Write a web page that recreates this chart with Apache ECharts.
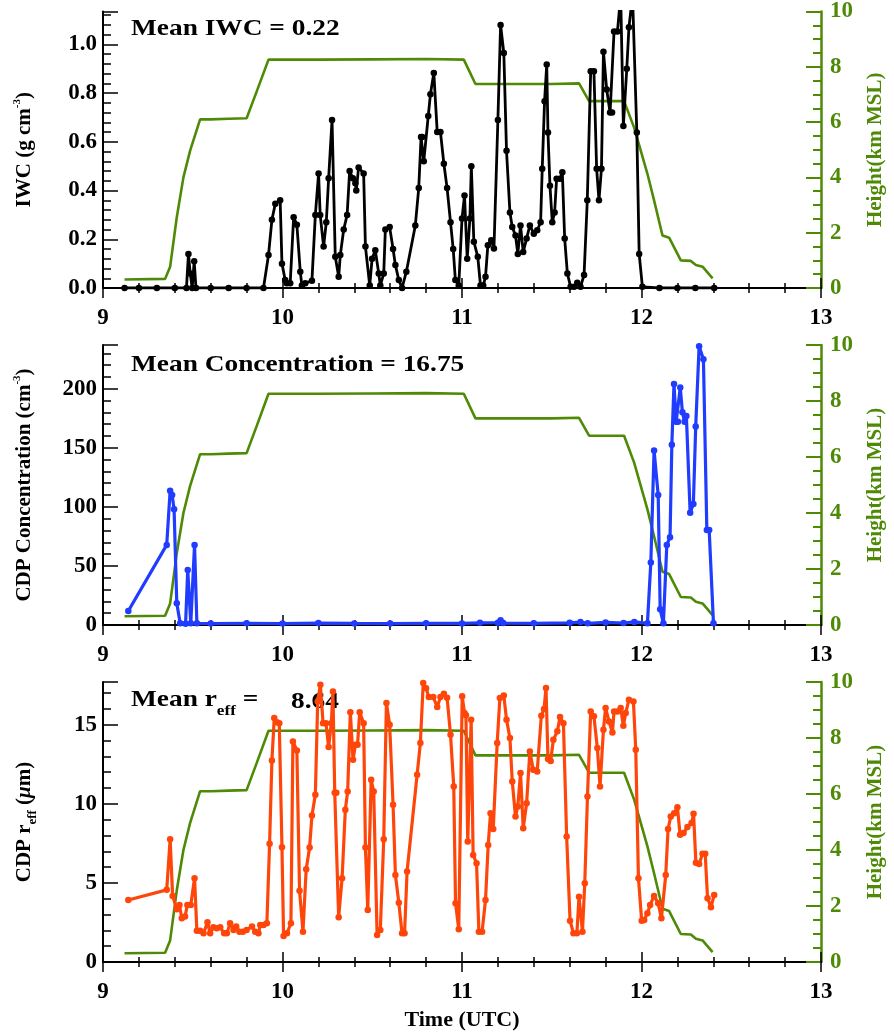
<!DOCTYPE html>
<html><head><meta charset="utf-8">
<script src="https://cdn.jsdelivr.net/npm/echarts@6/dist/echarts.min.js"></script>
<style>html,body{margin:0;padding:0;background:#fff}#c{width:894px;height:1033px}</style>
</head><body><div id="c"></div><script>
// ---------------- data ----------------
const xTicks = [9, 10, 11, 12, 13];
const heightTime = [9.12, 9.346, 9.374, 9.411, 9.448, 9.485, 9.541, 9.60, 9.70, 9.80, 9.857, 9.922, 10.2, 10.5, 10.8, 11.01, 11.075, 11.3, 11.5, 11.652, 11.708, 11.8, 11.903, 11.959, 12.033, 12.07, 12.117, 12.154, 12.219, 12.275, 12.303, 12.34, 12.396];
const heightKm = [0.31, 0.33, 0.77, 2.56, 4.0, 4.96, 6.1, 6.1, 6.12, 6.14, 7.12, 8.26, 8.26, 8.27, 8.28, 8.26, 7.38, 7.38, 7.38, 7.4, 6.76, 6.76, 6.76, 5.8, 4.13, 3.17, 1.9, 1.82, 1.0, 0.98, 0.83, 0.77, 0.35];

const iwcTime = [9.12, 9.2, 9.3, 9.4, 9.465, 9.476, 9.486, 9.497, 9.508, 9.518, 9.6, 9.7, 9.8, 9.894, 9.922, 9.941, 9.96, 9.987, 9.997, 10.015, 10.024, 10.043, 10.062, 10.08, 10.099, 10.108, 10.127, 10.164, 10.183, 10.201, 10.21, 10.229, 10.244, 10.257, 10.276, 10.294, 10.313, 10.322, 10.341, 10.36, 10.374, 10.392, 10.406, 10.411, 10.424, 10.452, 10.462, 10.486, 10.499, 10.517, 10.536, 10.545, 10.564, 10.573, 10.597, 10.616, 10.629, 10.648, 10.666, 10.69, 10.74, 10.759, 10.772, 10.779, 10.787, 10.812, 10.824, 10.843, 10.862, 10.88, 10.899, 10.917, 10.936, 10.951, 10.963, 10.982, 11.0, 11.014, 11.029, 11.044, 11.052, 11.066, 11.088, 11.103, 11.118, 11.131, 11.144, 11.163, 11.178, 11.2, 11.215, 11.233, 11.248, 11.267, 11.28, 11.298, 11.311, 11.326, 11.341, 11.36, 11.378, 11.4, 11.419, 11.438, 11.447, 11.46, 11.472, 11.479, 11.49, 11.503, 11.516, 11.527, 11.546, 11.559, 11.572, 11.587, 11.605, 11.625, 11.642, 11.66, 11.68, 11.698, 11.717, 11.735, 11.75, 11.763, 11.777, 11.788, 11.806, 11.825, 11.836, 11.847, 11.866, 11.884, 11.899, 11.918, 11.93, 11.95, 11.974, 11.987, 12.005, 12.1, 12.2, 12.3, 12.405];
const iwcValue = [0, 0, 0, 0, 0, 0.14, 0.06, 0.0, 0.11, 0, 0, 0, 0, 0, 0.135, 0.28, 0.346, 0.36, 0.10, 0.033, 0.02, 0.02, 0.29, 0.26, 0.067, 0.01, 0.02, 0.03, 0.30, 0.47, 0.30, 0.17, 0.27, 0.45, 0.69, 0.128, 0.046, 0.135, 0.24, 0.30, 0.48, 0.45, 0.43, 0.40, 0.495, 0.47, 0.17, 0.01, 0.12, 0.155, 0.06, 0.01, 0.06, 0.24, 0.25, 0.16, 0.094, 0.033, 0.0, 0.067, 0.257, 0.41, 0.62, 0.62, 0.52, 0.706, 0.795, 0.883, 0.64, 0.64, 0.51, 0.41, 0.27, 0.16, 0.033, 0.01, 0.285, 0.38, 0.12, 0.285, 0.50, 0.19, 0.128, 0.01, 0.01, 0.046, 0.175, 0.196, 0.162, 0.69, 1.08, 0.965, 0.563, 0.31, 0.25, 0.216, 0.14, 0.257, 0.148, 0.203, 0.257, 0.223, 0.237, 0.27, 0.49, 0.767, 0.917, 0.638, 0.42, 0.27, 0.31, 0.448, 0.448, 0.475, 0.203, 0.06, 0.005, 0.005, 0.022, 0.005, 0.053, 0.36, 0.89, 0.89, 0.49, 0.36, 0.49, 0.97, 0.815, 0.72, 0.72, 1.053, 1.053, 1.2, 0.665, 0.90, 1.07, 1.2, 0.638, 0.14, 0.005, 0, 0, 0, 0];

const concTime = [9.141, 9.355, 9.374, 9.385, 9.396, 9.411, 9.43, 9.46, 9.472, 9.489, 9.51, 9.523, 9.6, 9.8, 10.0, 10.2, 10.4, 10.6, 10.8, 11.0, 11.1, 11.2, 11.215, 11.23, 11.4, 11.6, 11.66, 11.7, 11.8, 11.9, 11.96, 12.033, 12.052, 12.07, 12.093, 12.104, 12.122, 12.141, 12.159, 12.169, 12.181, 12.193, 12.203, 12.216, 12.228, 12.24, 12.25, 12.271, 12.289, 12.302, 12.321, 12.345, 12.364, 12.377, 12.401];
const concValue = [11.9, 67.8, 113.6, 110, 98, 18.4, 1.4, 1.0, 46.6, 1.4, 67.8, 1.4, 1.2, 1.5, 1.2, 1.6, 1.3, 1.2, 1.5, 1.3, 1.8, 2.0, 4.0, 1.6, 1.4, 1.8, 2.5, 1.4, 2.2, 1.7, 2.6, 1.4, 53, 147.7, 110, 13.3, 1.4, 67.8, 74.3, 152.5, 204, 172, 172, 201, 180, 172, 177, 95, 102.5, 168, 236, 225, 80.5, 80.5, 1.4];

const reffTime = [9.141, 9.355, 9.374, 9.388, 9.411, 9.426, 9.439, 9.457, 9.47, 9.489, 9.51, 9.523, 9.541, 9.56, 9.582, 9.597, 9.615, 9.634, 9.653, 9.675, 9.69, 9.708, 9.727, 9.742, 9.76, 9.779, 9.80, 9.83, 9.848, 9.866, 9.876, 9.894, 9.913, 9.928, 9.941, 9.954, 9.969, 9.982, 9.997, 10.006, 10.025, 10.047, 10.058, 10.08, 10.095, 10.114, 10.132, 10.151, 10.164, 10.183, 10.196, 10.211, 10.226, 10.242, 10.257, 10.272, 10.281, 10.291, 10.3, 10.313, 10.332, 10.35, 10.363, 10.378, 10.393, 10.406, 10.418, 10.43, 10.452, 10.462, 10.475, 10.494, 10.508, 10.527, 10.545, 10.564, 10.579, 10.597, 10.616, 10.629, 10.648, 10.666, 10.68, 10.694, 10.75, 10.768, 10.784, 10.8, 10.815, 10.84, 10.862, 10.88, 10.899, 10.917, 10.936, 10.954, 10.964, 10.982, 11.001, 11.014, 11.022, 11.032, 11.051, 11.062, 11.081, 11.094, 11.112, 11.131, 11.146, 11.159, 11.174, 11.196, 11.211, 11.233, 11.248, 11.267, 11.28, 11.298, 11.311, 11.326, 11.341, 11.36, 11.378, 11.397, 11.419, 11.442, 11.457, 11.468, 11.479, 11.494, 11.509, 11.531, 11.546, 11.565, 11.583, 11.602, 11.621, 11.64, 11.652, 11.671, 11.684, 11.699, 11.717, 11.735, 11.754, 11.769, 11.788, 11.8, 11.819, 11.838, 11.847, 11.866, 11.884, 11.899, 11.912, 11.93, 11.955, 11.968, 11.983, 12.001, 12.015, 12.033, 12.048, 12.07, 12.093, 12.111, 12.135, 12.148, 12.163, 12.182, 12.2, 12.215, 12.234, 12.256, 12.279, 12.29, 12.303, 12.321, 12.34, 12.355, 12.368, 12.387, 12.405];
const reffValue = [3.92, 4.56, 7.76, 4.18, 3.33, 3.6, 2.76, 2.87, 3.6, 3.6, 5.3, 1.98, 1.98, 1.81, 2.51, 1.81, 2.19, 2.13, 2.19, 1.81, 1.81, 2.45, 2.03, 2.24, 1.92, 1.92, 2.03, 2.24, 1.92, 1.81, 2.34, 2.34, 2.45, 7.47, 12.74, 15.42, 15.15, 15.1, 7.26, 1.65, 1.81, 2.45, 13.94, 13.37, 4.51, 1.92, 5.87, 7.24, 9.26, 10.57, 16.47, 17.53, 15.1, 15.1, 13.59, 15.1, 17.1, 10.7, 10.7, 2.83, 5.3, 9.62, 10.78, 15.78, 12.78, 13.73, 13.73, 15.78, 15.1, 7.24, 3.29, 11.52, 10.78, 1.71, 2.03, 7.76, 16.37, 15.0, 9.94, 5.5, 3.75, 1.81, 1.81, 5.72, 11.84, 13.84, 17.64, 17.3, 16.75, 16.75, 16.12, 16.75, 16.96, 16.7, 14.37, 11.1, 3.72, 2.07, 16.8, 15.74, 15.6, 7.61, 15.32, 6.77, 6.25, 1.92, 1.92, 3.92, 7.4, 9.41, 8.4, 13.84, 16.69, 16.84, 15.32, 14.16, 11.41, 9.2, 9.83, 11.94, 8.46, 10.04, 13.31, 12.15, 12.05, 15.57, 15.99, 17.32, 12.83, 12.7, 14.05, 14.58, 15.49, 15.1, 7.93, 2.61, 1.81, 1.81, 4.13, 1.92, 4.98, 10.46, 15.84, 15.53, 13.53, 11.1, 14.68, 16.06, 15.21, 14.51, 15.84, 15.84, 16.06, 14.94, 15.74, 16.58, 16.47, 13.42, 5.3, 2.61, 2.66, 3.08, 3.61, 4.18, 3.72, 2.76, 5.5, 8.4, 9.2, 9.41, 9.79, 8.04, 8.15, 8.53, 8.78, 9.37, 6.28, 6.2, 6.84, 6.84, 4.03, 3.46, 4.24];

const leftMax = [1.135, 237, 17.7];
const leftInterval = [0.2, 50, 5];
const meanLabels = ['Mean IWC = 0.22', 'Mean Concentration = 16.75'];
const reffMeanValue = '8.64';

// ---------------- chart ----------------
const FONT = '"Liberation Serif","Times New Roman",serif';
const GREEN = '#4e8a06';
const BLUE = '#1f3cff';
const ORANGE = '#ff460a';
const zip = (a, b) => a.map((t, i) => [t, b[i]]);

const gridTops = [10, 345, 682];
const gridHeights = [278, 280, 280];

const chart = echarts.init(document.getElementById('c'), null, {renderer: 'canvas'});

const xAxes = [];
const yAxes = [];
for (let i = 0; i < 3; i++) {
  xAxes.push({
    type: 'value', gridIndex: i, position: 'bottom', min: xTicks[0], max: xTicks[xTicks.length - 1], interval: 1,
    axisLine: {lineStyle: {color: '#000', width: 2}},
    axisTick: {inside: true, length: 10, lineStyle: {color: '#000', width: 1.5}},
    minorTick: {show: true, splitNumber: 5, length: 5, lineStyle: {color: '#000', width: 1.5}},
    splitLine: {show: false},
    axisLabel: {color: '#000', fontFamily: FONT, fontWeight: 'bold', fontSize: 23, margin: 19},
    name: i === 2 ? 'Time (UTC)' : '', nameLocation: 'middle', nameGap: 47,
    nameTextStyle: {color: '#000', fontFamily: FONT, fontWeight: 'bold', fontSize: 22}
  });
}
for (let i = 0; i < 3; i++) {
  xAxes.push({
    type: 'value', gridIndex: i, position: 'top', min: 9, max: 13, interval: 1,
    axisLine: {lineStyle: {color: '#000', width: 2}},
    axisTick: {inside: true, length: 10, lineStyle: {color: '#000', width: 1.5}},
    minorTick: {show: true, splitNumber: 5, length: 5, lineStyle: {color: '#000', width: 1.5}},
    splitLine: {show: false}, axisLabel: {show: false}
  });
}
const leftNames = ['{a|IWC (g cm}{s|-3}{a|)}', '{a|CDP Concentration (cm}{s|-3}{a|)}', '{a|CDP r}{b|eff}{a| (}{m|μ}{a|m)}'];
const fmt = [v => v.toFixed(1), v => String(v), v => String(v)];
const richName = {
  a: {fontFamily: FONT, fontWeight: 'bold', fontSize: 21, color: '#000', verticalAlign: 'bottom', padding: [0, 0, 4, 0]},
  m: {fontFamily: FONT, fontWeight: 'bold', fontStyle: 'italic', fontSize: 21, color: '#000', verticalAlign: 'bottom', padding: [0, 0, 4, 0]},
  s: {fontFamily: FONT, fontWeight: 'bold', fontSize: 11, color: '#000', verticalAlign: 'bottom', padding: [0, 0, 16, 0]},
  b: {fontFamily: FONT, fontWeight: 'bold', fontSize: 13, color: '#000', verticalAlign: 'bottom', padding: [0, 0, 0, 0]}
};
for (let i = 0; i < 3; i++) {
  yAxes.push({
    type: 'value', gridIndex: i, position: 'left', min: 0, max: leftMax[i], interval: leftInterval[i],
    axisLine: {show: true, lineStyle: {color: '#000', width: 2}},
    axisTick: {inside: true, length: 15, lineStyle: {color: '#000', width: 1.5}},
    minorTick: {show: true, splitNumber: 5, length: 8, lineStyle: {color: '#000', width: 1.5}},
    splitLine: {show: false},
    axisLabel: {color: '#000', fontFamily: FONT, fontWeight: 'bold', fontSize: 23, margin: 6, showMaxLabel: false, formatter: fmt[i]},
    name: leftNames[i], nameLocation: 'middle', nameRotate: 90, nameGap: 64,
    nameTextStyle: {rich: richName}
  });
  yAxes.push({
    type: 'value', gridIndex: i, position: 'right', min: 0, max: 10, interval: 2,
    axisLine: {show: true, lineStyle: {color: GREEN, width: 2.5}},
    axisTick: {inside: true, length: 15, lineStyle: {color: GREEN, width: 2}},
    minorTick: {show: true, splitNumber: 4, length: 8, lineStyle: {color: GREEN, width: 2}},
    splitLine: {show: false},
    axisLabel: {color: GREEN, fontFamily: FONT, fontWeight: 'bold', fontSize: 23, margin: 9},
    name: 'Height(km MSL)', nameLocation: 'middle', nameRotate: 90, nameGap: 44,
    nameTextStyle: {color: GREEN, fontFamily: FONT, fontWeight: 'bold', fontSize: 21}
  });
}

const series = [];
const dataSets = [zip(iwcTime, iwcValue), zip(concTime, concValue), zip(reffTime, reffValue)];
const colors = ['#000', BLUE, ORANGE];
for (let i = 0; i < 3; i++) {
  series.push({
    type: 'line', xAxisIndex: i, yAxisIndex: 2 * i + 1, data: zip(heightTime, heightKm),
    showSymbol: false, symbol: 'none', lineStyle: {color: GREEN, width: 2.6}, z: 2, silent: true
  });
  series.push({
    type: 'line', xAxisIndex: i, yAxisIndex: 2 * i, data: dataSets[i],
    symbol: 'circle', symbolSize: 6.5, showAllSymbol: true,
    lineStyle: {color: colors[i], width: i === 0 ? 2.8 : 3.2}, itemStyle: {color: colors[i]}, z: 3, silent: true
  });
}

const meanStyle = {fontFamily: FONT, fontWeight: 'bold', fontSize: 24, fill: '#000'};
const graphic = [
  {type: 'text', left: 131, top: 17, scaleX: 1.14, style: Object.assign({text: meanLabels[0]}, meanStyle)},
  {type: 'text', left: 131, top: 353, scaleX: 1.14, style: Object.assign({text: meanLabels[1]}, meanStyle)},
  {type: 'text', left: 131, top: 688, scaleX: 1.14, style: {
    text: '{a|Mean r}{b|eff}{a| =}',
    rich: {
      a: {fontFamily: FONT, fontWeight: 'bold', fontSize: 24, fill: '#000', verticalAlign: 'bottom', padding: [0, 0, 7, 0]},
      b: {fontFamily: FONT, fontWeight: 'bold', fontSize: 15, fill: '#000', verticalAlign: 'bottom'}
    }
  }},
  {type: 'text', left: 291, top: 690, scaleX: 1.14, style: Object.assign({text: reffMeanValue}, meanStyle)}
];

chart.setOption({
  animation: false,
  backgroundColor: '#fff',
  grid: gridTops.map((t, i) => ({left: 103, right: 72, top: t, height: gridHeights[i], containLabel: false})),
  xAxis: xAxes,
  yAxis: yAxes,
  series: series,
  graphic: graphic
});
</script></body></html>
